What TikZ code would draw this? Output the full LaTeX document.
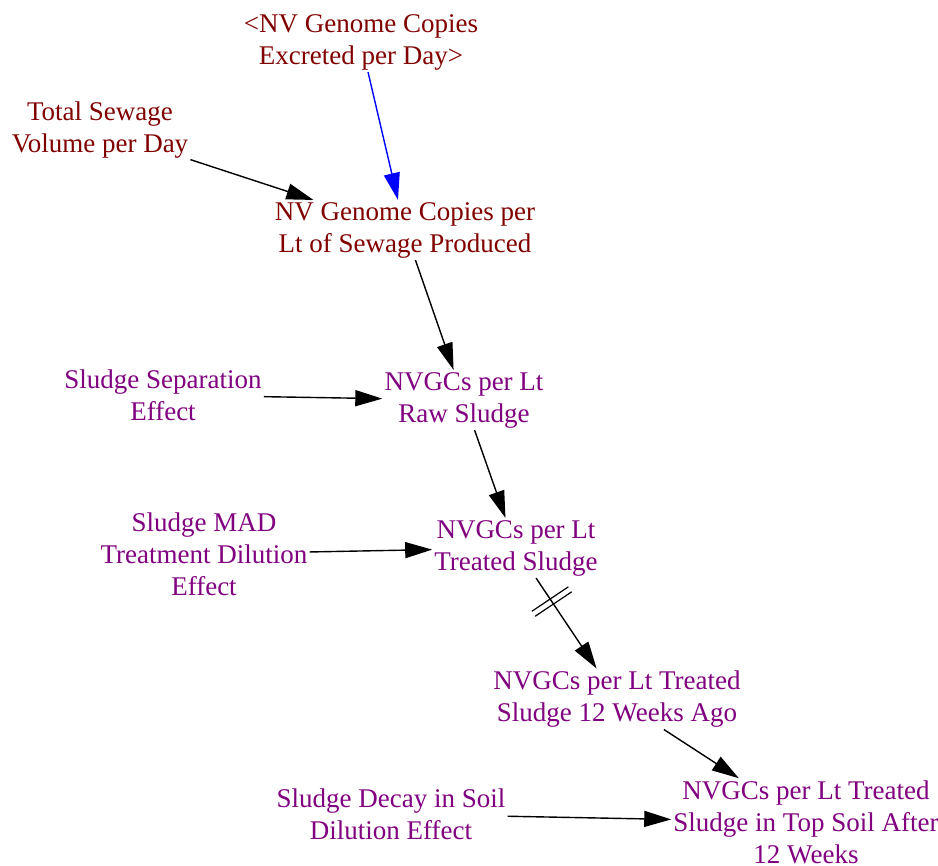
\documentclass[tikz,border=0pt]{standalone}
\usepackage{fontspec}
\setmainfont{Liberation Serif}
\usetikzlibrary{arrows.meta,decorations.markings}
\definecolor{varred}{RGB}{128,0,0}
\definecolor{varpurple}{RGB}{128,0,128}
\begin{document}
\begin{tikzpicture}[x=1pt,y=-1pt,
  var/.style={align=center,inner sep=2pt,font=\fontsize{27}{32}\selectfont},
  redvar/.style={var,text=varred},
  purplevar/.style={var,text=varpurple},
  link/.style={line width=1.4pt,-{Triangle[length=27pt,width=16pt]}},
  shadowlink/.style={link,draw=blue},
  delaylink/.style={link,postaction={decorate,decoration={markings,
    mark=at position 0.26 with {
      \draw[-,line width=1.2pt] (-3pt,-22pt) -- (-3pt,22pt);
      \draw[-,line width=1.2pt] (3pt,-22pt) -- (3pt,22pt);}}}}
]
\useasboundingbox (0,0) rectangle (938,866);

% variables
\node[redvar] (excreted) at (361,42) {<NV Genome Copies\\Excreted per Day>};
\node[redvar] (volume) at (100,130) {Total Sewage\\Volume per Day};
\node[redvar] (perlt) at (405,230) {NV Genome Copies per\\Lt of Sewage Produced};
\node[purplevar] (raw) at (464,400) {NVGCs per Lt\\Raw Sludge};
\node[purplevar] (separation) at (163,395) {Sludge Separation\\Effect};
\node[purplevar] (treated) at (516,548) {NVGCs per Lt\\Treated Sludge};
\node[purplevar] (mad) at (204,554) {Sludge MAD\\Treatment Dilution\\Effect};
\node[purplevar] (ago) at (617,699) {NVGCs per Lt Treated\\Sludge 12 Weeks Ago};
\node[purplevar] (decay) at (391,814) {Sludge Decay in Soil\\Dilution Effect};
\node[purplevar] (topsoil) at (806,822) {NVGCs per Lt Treated\\Sludge in Top Soil After\\12 Weeks};

% links
\draw[shadowlink] (excreted) -- (perlt);
\draw[link] (volume) -- (perlt);
\draw[link] (perlt) -- (raw);
\draw[link] (separation) -- (raw);
\draw[link] (raw) -- (treated);
\draw[link] (mad) -- (treated);
\draw[delaylink] (treated) -- (ago);
\draw[link] (ago) -- (topsoil);
\draw[link] (decay) -- (topsoil);
\end{tikzpicture}
\end{document}
